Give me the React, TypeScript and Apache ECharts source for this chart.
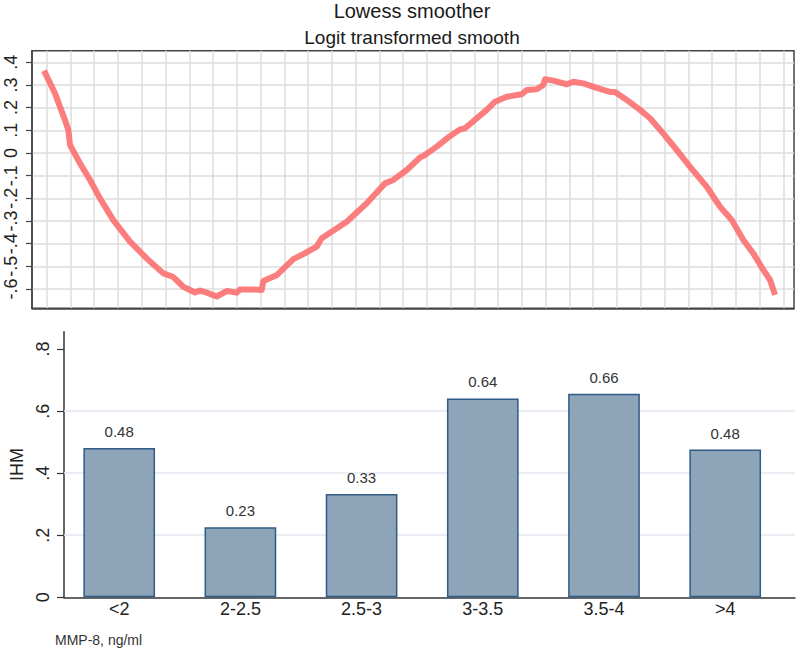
import React, { useEffect, useRef } from 'react';
import * as echarts from 'echarts';

// ---- Top panel: lowess smooth (x in grid-line units, y = logit smooth) ----
const smoothX = [
  -0.114, 0.349, 0.770, 0.909, 0.981, 1.402, 1.822, 2.243, 2.803, 3.506, 4.209, 4.907,
  5.316, 5.749, 6.242, 6.452, 6.734, 7.155, 7.576, 7.997, 8.136, 8.695, 9.049, 9.116,
  9.693, 10.379, 10.800, 11.364, 11.574, 12.626, 13.468, 14.238, 14.588, 15.152, 15.711,
  15.850, 16.414, 16.902, 17.395, 17.605, 18.519, 18.868, 19.360, 19.992, 20.202, 20.623,
  20.901, 20.972, 21.322, 21.886, 22.163, 22.584, 23.148, 23.708, 23.919, 24.411, 24.971,
  25.392, 25.884, 26.515, 27.075, 27.778, 28.338, 28.830, 29.318, 29.739, 30.160, 30.442,
  30.653,
];
const smoothY = [
  0.363, 0.263, 0.145, 0.101, 0.035, -0.046, -0.119, -0.200, -0.296, -0.391, -0.465, -0.531,
  -0.546, -0.590, -0.615, -0.607, -0.616, -0.633, -0.609, -0.616, -0.602, -0.602, -0.604, -0.565,
  -0.538, -0.468, -0.446, -0.413, -0.376, -0.303, -0.222, -0.134, -0.119, -0.075, -0.020,
  -0.013, 0.028, 0.069, 0.104, 0.109, 0.190, 0.226, 0.248, 0.259, 0.278, 0.281,
  0.300, 0.325, 0.319, 0.303, 0.314, 0.307, 0.287, 0.269, 0.269, 0.234, 0.190,
  0.153, 0.094, 0.013, -0.061, -0.149, -0.237, -0.296, -0.384, -0.443, -0.516, -0.560,
  -0.626,
];
const topYTicks = [-0.6, -0.5, -0.4, -0.3, -0.2, -0.1, 0, 0.1, 0.2, 0.3, 0.4];
const topXGridLines = Array.from({ length: 32 }, (_, i) => i);

// ---- Bottom panel: IHM by MMP-8 category ----
const categories = ['<2', '2-2.5', '2.5-3', '3-3.5', '3.5-4', '>4'];
const ihmValues = [0.481, 0.226, 0.333, 0.641, 0.656, 0.476];
const bottomYTicks = [0, 0.2, 0.4, 0.6, 0.8];
const bottomGridLines = [0.2, 0.4, 0.6];

const FONT = '"Liberation Sans", Arial, sans-serif';

function fmtStata(v: number): string {
  const r = Math.round(v * 10) / 10;
  if (Math.abs(r) < 1e-9) return '0';
  const s = String(Math.abs(r)).replace(/^0/, '');
  return (r < 0 ? '-' : '') + s;
}

export default function App() {
  const ref = useRef<HTMLDivElement>(null);
  useEffect(() => {
    document.body.style.margin = '0';
    if (!ref.current) return;
    const chart = echarts.init(ref.current, undefined, { renderer: 'svg' });
    const gridColorTop = '#dddddd';
    const gridColorBottom = '#e0e9f1';
    chart.setOption({
      animation: false,
      backgroundColor: '#ffffff',
      textStyle: { fontFamily: FONT },
      graphic: [
        {
          type: 'text', x: 412, y: 10.5,
          style: { text: 'Lowess smoother', font: `20px ${FONT}`, fill: '#1a1a1a', textAlign: 'center', textVerticalAlign: 'middle' },
        },
        {
          type: 'text', x: 412, y: 37.5,
          style: { text: 'Logit transformed smooth', font: `19px ${FONT}`, fill: '#1a1a1a', textAlign: 'center', textVerticalAlign: 'middle' },
        },
        {
          type: 'text', x: 55, y: 640,
          style: { text: 'MMP-8, ng/ml', font: `14px ${FONT}`, fill: '#333333', textAlign: 'left', textVerticalAlign: 'middle' },
        },
      ],
      grid: [
        { left: 32, right: 3, top: 50.7, height: 257.6, show: true, borderColor: '#444444', borderWidth: 1.5, containLabel: false },
        { left: 50, right: 2, top: 331.7, bottom: 50.7, containLabel: false },
        { left: 58.6, right: 11.2, top: 331.7, bottom: 50.7, containLabel: false },
      ],
      xAxis: [
        {
          gridIndex: 0, type: 'value', min: -0.619, max: 31.45,
          axisLine: { show: true, onZero: false, lineStyle: { color: '#444444', width: 1.5 } },
          axisTick: { show: false, customValues: topXGridLines },
          axisLabel: { show: false, customValues: topXGridLines },
          splitLine: { show: true, lineStyle: { color: gridColorTop, width: 1.5 } },
        },
        {
          gridIndex: 1, type: 'value', min: 0, max: 1,
          axisLine: { show: true, onZero: false, lineStyle: { color: '#333333', width: 1.5 } },
          axisTick: { show: false }, axisLabel: { show: false }, splitLine: { show: false },
        },
        {
          gridIndex: 2, type: 'category', data: categories,
          axisLine: { show: false }, axisTick: { show: false },
          axisLabel: { fontSize: 18, color: '#222222', margin: 3, fontFamily: FONT },
          splitLine: { show: false },
        },
      ],
      yAxis: [
        {
          gridIndex: 0, type: 'value', min: -0.685, max: 0.451,
          axisLine: { show: true, onZero: false, lineStyle: { color: '#444444', width: 1.5 } },
          axisTick: { show: true, length: 6, customValues: topYTicks, lineStyle: { color: '#444444', width: 1.2 } },
          axisLabel: { customValues: topYTicks, rotate: 90, fontSize: 18, color: '#222222', margin: 12, formatter: fmtStata, fontFamily: FONT },
          splitLine: { show: true, lineStyle: { color: gridColorTop, width: 1.5 } },
        },
        {
          gridIndex: 1, type: 'value', min: 0, max: 0.856,
          name: 'IHM', nameLocation: 'middle', nameGap: 38,
          nameTextStyle: { fontSize: 18, color: '#222222', fontFamily: FONT },
          axisLine: { show: true, onZero: false, lineStyle: { color: '#333333', width: 1.5 } },
          axisTick: { show: true, length: 7, customValues: bottomYTicks, lineStyle: { color: '#333333', width: 1.2 } },
          axisLabel: { customValues: bottomYTicks, rotate: 90, fontSize: 18, color: '#222222', margin: 12, formatter: fmtStata, fontFamily: FONT },
          splitLine: { show: false },
        },
        { gridIndex: 2, type: 'value', min: 0, max: 0.856, show: false },
      ],
      series: [
        {
          type: 'line', xAxisIndex: 0, yAxisIndex: 0,
          data: smoothX.map((x, i) => [x, smoothY[i]]),
          showSymbol: false, symbol: 'none', smooth: false,
          lineStyle: { color: '#fb7272', width: 6, opacity: 0.92, join: 'round' },
          z: 5,
        },
        {
          type: 'line', xAxisIndex: 1, yAxisIndex: 1,
          data: [[0, 0]], showSymbol: false, symbol: 'none',
          lineStyle: { opacity: 0 }, silent: true, z: 1,
          markLine: {
            silent: true, symbol: ['none', 'none'], label: { show: false }, z: 1,
            lineStyle: { color: gridColorBottom, width: 1.5, type: 'solid' },
            data: bottomGridLines.map((v) => ({ yAxis: v })),
          },
        },
        {
          type: 'bar', xAxisIndex: 2, yAxisIndex: 2,
          data: ihmValues,
          barWidth: 71.7, z: 4,
          itemStyle: { color: '#8ea4b8', borderColor: '#2f5b86', borderWidth: 1.5 },
          label: {
            show: true, position: 'top', distance: 9, fontSize: 15, color: '#333333', fontFamily: FONT,
            formatter: (p: any) => Number(p.value).toFixed(2),
          },
        },
      ],
    });
    return () => chart.dispose();
  }, []);
  return <div ref={ref} style={{ width: 797, height: 648 }} />;
}
